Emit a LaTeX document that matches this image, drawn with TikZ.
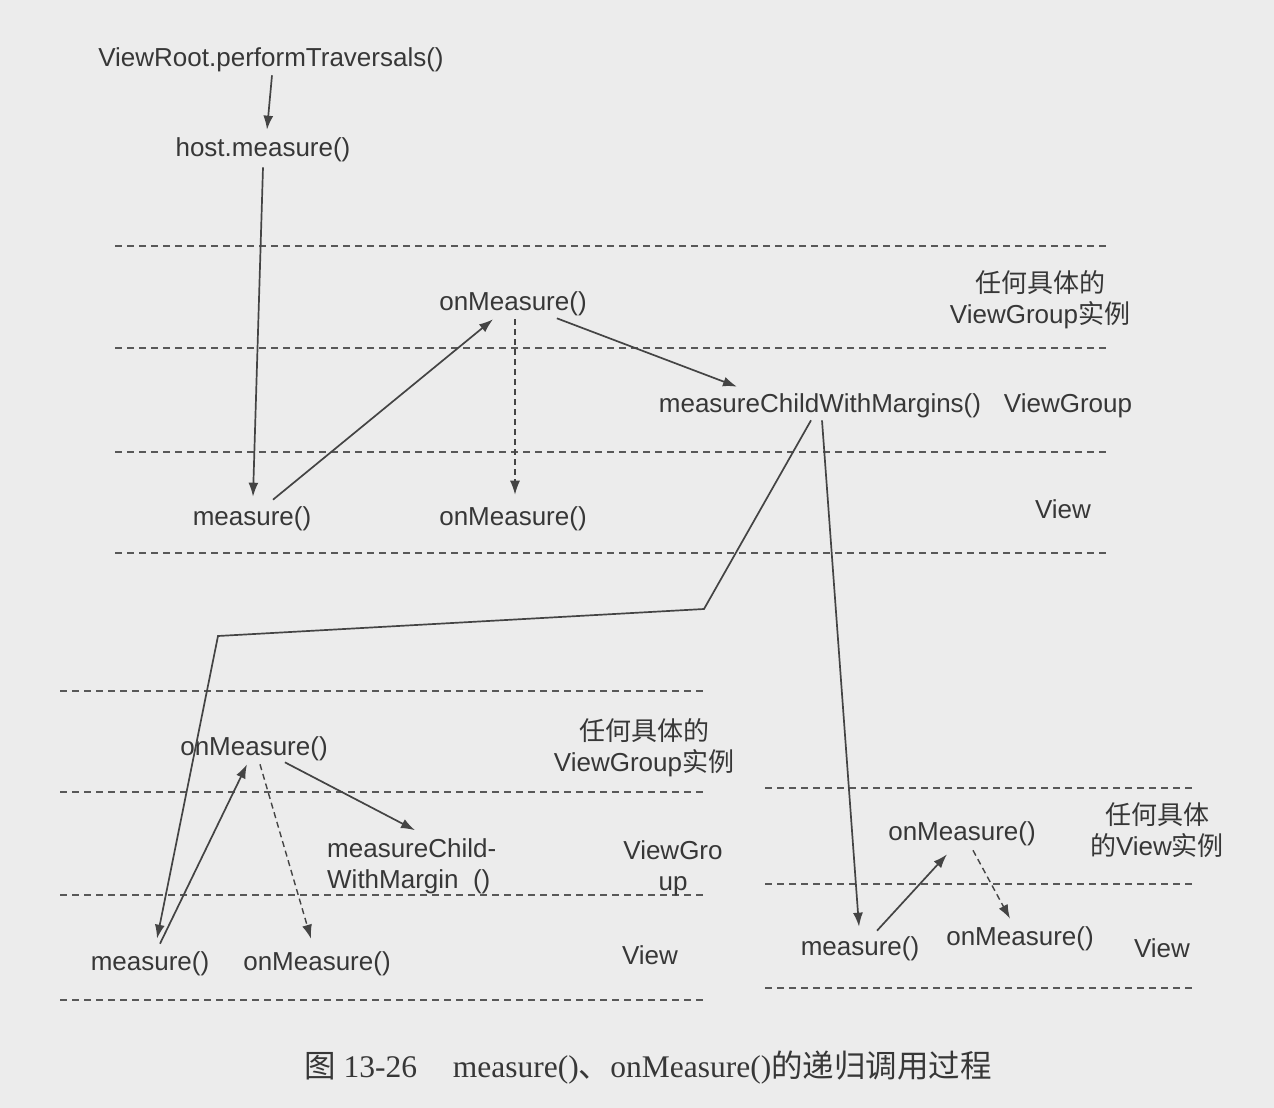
\documentclass[tikz,border=0pt]{standalone}
\usepackage{fontspec}
\setmainfont{Liberation Serif}
\newfontfamily\hv{Liberation Sans}
\newfontfamily\cjk{Noto Sans CJK SC}
\usetikzlibrary{arrows.meta,calc}
\definecolor{paper}{RGB}{236,236,236}
\definecolor{ink}{RGB}{55,55,55}
\definecolor{wire}{RGB}{68,68,68}
\definecolor{rule}{RGB}{88,88,88}
\begin{document}
\begin{tikzpicture}[x=1pt,y=-1pt,
  lbl/.style={inner sep=0pt, text=ink, yshift=-2pt, font=\hv\fontsize{26}{31}\selectfont},
  lbl2/.style={lbl, align=center},
  arr/.style={draw=wire, line width=1.7pt, -{Latex[length=14pt,width=10pt]}},
  darr/.style={arr, line width=1.4pt, dash pattern=on 6pt off 4pt},
  sep/.style={draw=rule, line width=1.3pt, dash pattern=on 7pt off 5pt},
]
\fill[paper] (0,0) rectangle (1274,1108);
\useasboundingbox (0,0) rectangle (1274,1108);

% layer separators
\foreach \yy in {246,348,452,553} \draw[sep] (115,\yy) -- (1107,\yy);
\foreach \yy in {691,792,895,1000} \draw[sep] (60,\yy) -- (707,\yy);
\foreach \yy in {788,884,988} \draw[sep] (765,\yy) -- (1192,\yy);

% entry point
\node[lbl] (vr)   at (271,58)  {ViewRoot.performTraversals()};
\node[lbl] (host) at (263,148) {host.measure()};

% first level: a ViewGroup
\node[lbl] (onm1) at (513,302) {onMeasure()};
\node[lbl] (mcwm) at (820,404) {measureChildWithMargins()};
\node[lbl] (meas1) at (252,517) {measure()};
\node[lbl] (onm2) at (513,517) {onMeasure()};
\node[lbl2] (lab1) at (1040,298) {{\cjk 任何具体的}\\ViewGroup{\cjk 实例}};
\node[lbl] (vg1) at (1068,404) {ViewGroup};
\node[lbl] (v1)  at (1063,507) {View};

% second level, left: a nested ViewGroup
\node[lbl] (onm3) at (254,747) {onMeasure()};
\node[lbl, align=left, anchor=west] (mc2) at (327,864) {measureChild-\\WithMargin\ \ ()};
\node[lbl] (meas2) at (150,962) {measure()};
\node[lbl] (onm4) at (317,962) {onMeasure()};
\node[lbl2] (lab2) at (644,746) {{\cjk 任何具体的}\\ViewGroup{\cjk 实例}};
\node[lbl2] (vg2) at (673,866) {ViewGro\\up};
\node[lbl] (v2) at (650,953) {View};

% second level, right: a plain View
\node[lbl] (onm5) at (962,832) {onMeasure()};
\node[lbl] (meas3) at (860,947) {measure()};
\node[lbl] (onm6) at (1020,937) {onMeasure()};
\node[lbl2] (lab3) at (1157,828) {{\cjk 任何具体}\\{\cjk 的}View{\cjk 实例}};
\node[lbl] (v3) at (1162,946) {View};

% caption
\node[inner sep=0pt, text=ink, font=\fontsize{31.5}{35}\selectfont] (cap) at (648,1068)
  {{\cjk 图}\ 13-26\hspace{36pt}measure(){\cjk 、}onMeasure(){\cjk 的递归调用过程}};

% calls
\draw[arr] ([shift={(1,3)}]vr.south) -- ([shift={(4,-8)}]host.north);
\draw[arr] ([shift={(0,5)}]host.south) -- ([shift={(1,-10)}]meas1.north);
\draw[arr] ([shift={(21,-7)}]meas1.north) -- ([shift={(-20,3)}]onm1.south);
\draw[darr] ([shift={(2,3)}]onm1.south) -- ([shift={(2,-12)}]onm2.north);
\draw[arr] ([shift={(-30,2)}]onm1.south east) -- ([shift={(-83,-7)}]mcwm.north);

\coordinate (bendA) at (704,609);
\coordinate (bendB) at (218,636);
\draw[arr] ([shift={(-9,2)}]mcwm.south) -- (bendA) -- (bendB) -- ([shift={(7,-13)}]meas2.north);
\draw[arr] ([shift={(2,2)}]mcwm.south) -- ([shift={(-1,-10)}]meas3.north);

\draw[arr] ([shift={(10,-8)}]meas2.north) -- ([shift={(-7,3)}]onm3.south);
\draw[darr] ([shift={(6,3)}]onm3.south) -- ([shift={(-6,-13)}]onm4.north);
\draw[arr] ([shift={(-43,1)}]onm3.south east) -- ([shift={(88,-8)}]mc2.north west);

\draw[arr] ([shift={(17,-6)}]meas3.north) -- ([shift={(-15,8)}]onm5.south);
\draw[darr] ([shift={(11,4)}]onm5.south) -- ([shift={(-10,-8)}]onm6.north);
\end{tikzpicture}
\end{document}
